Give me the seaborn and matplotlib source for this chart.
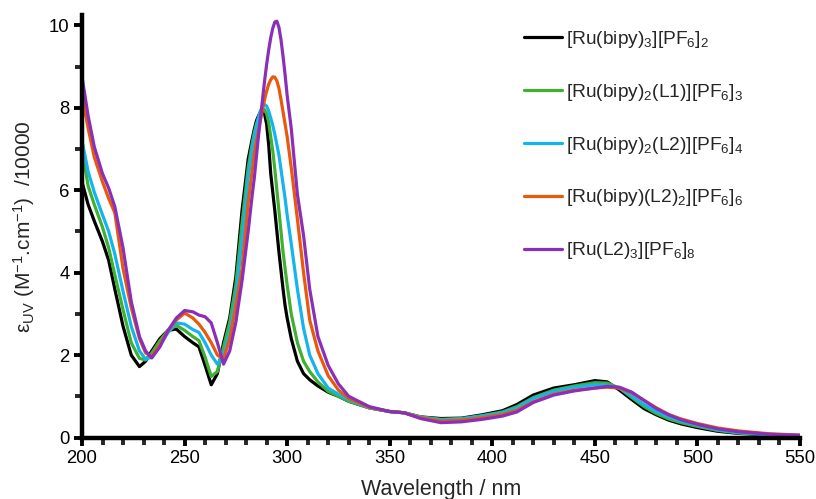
import numpy as np
import pandas as pd
import matplotlib
matplotlib.use("Agg")
import matplotlib.pyplot as plt
from matplotlib.ticker import MultipleLocator
import seaborn as sns

wavelength = [200, 203, 206, 210, 213, 216, 220, 224, 228, 231,
              234, 238, 242, 246, 250, 254, 257, 260, 263, 266,
              269, 272, 275, 278, 281, 283, 284, 285, 286, 287,
              288, 289, 290, 291, 292, 293, 294, 295, 296, 297,
              298, 299, 300, 302, 305, 308, 311, 315, 320, 325,
              330, 340, 350, 357, 365, 375, 385, 395, 405, 412,
              420, 430, 440, 450, 456, 462, 468, 474, 480, 486,
              492, 500, 510, 520, 535, 550]

ru_bipy3 = [6.2, 5.65, 5.25, 4.75, 4.3, 3.6, 2.7, 2.0, 1.72, 1.85,
            2.1, 2.4, 2.6, 2.63, 2.45, 2.3, 2.2, 1.75, 1.28, 1.55,
            2.3, 2.9, 3.9, 5.5, 6.75, 7.25, 7.48, 7.68, 7.8, 7.9,
            7.93, 7.85, 7.6, 7.1, 6.4, 5.95, 5.5, 5.0, 4.5, 4.05,
            3.6, 3.2, 2.9, 2.4, 1.85, 1.55, 1.4, 1.25, 1.1, 1.0,
            0.88, 0.72, 0.63, 0.6, 0.5, 0.46, 0.47, 0.55, 0.65, 0.8,
            1.03, 1.2, 1.28, 1.38, 1.35, 1.15, 0.92, 0.7, 0.55, 0.42,
            0.33, 0.24, 0.15, 0.1, 0.06, 0.04]

ru_bipy2_l1 = [7.0, 6.1, 5.65, 5.1, 4.6, 3.95, 3.1, 2.3, 1.92, 1.88,
               2.05, 2.35, 2.6, 2.72, 2.6, 2.45, 2.35, 1.95, 1.48, 1.6,
               2.2, 2.8, 3.7, 5.2, 6.55, 7.15, 7.4, 7.6, 7.75, 7.9,
               7.98, 7.95, 7.85, 7.65, 7.3, 6.95, 6.5, 6.0, 5.5, 5.0,
               4.5, 4.1, 3.7, 3.0, 2.3, 1.85, 1.6, 1.35, 1.12, 1.0,
               0.88, 0.72, 0.63, 0.6, 0.5, 0.44, 0.46, 0.53, 0.62, 0.75,
               0.97, 1.15, 1.25, 1.33, 1.32, 1.2, 0.97, 0.75, 0.58, 0.45,
               0.36, 0.27, 0.17, 0.11, 0.07, 0.05]

ru_bipy2_l2 = [7.2, 6.45, 5.95, 5.4, 5.0, 4.45, 3.55, 2.7, 2.1, 1.9,
               1.95, 2.25, 2.55, 2.78, 2.75, 2.62, 2.55, 2.3, 2.0, 1.78,
               2.0, 2.6, 3.4, 4.8, 6.3, 7.0, 7.3, 7.55, 7.75, 7.92,
               8.03, 8.08, 8.04, 7.92, 7.75, 7.57, 7.35, 7.1, 6.85, 6.5,
               6.15, 5.8, 5.4, 4.7, 3.6, 2.65, 2.0, 1.55, 1.2, 1.05,
               0.92, 0.72, 0.63, 0.6, 0.49, 0.43, 0.45, 0.52, 0.6, 0.72,
               0.95, 1.12, 1.22, 1.28, 1.27, 1.2, 1.0, 0.8, 0.63, 0.5,
               0.4, 0.3, 0.19, 0.12, 0.07, 0.05]

ru_bipy_l2_2 = [8.3, 7.5, 6.8, 6.2, 5.8, 5.45, 4.1, 3.15, 2.4, 2.05,
                1.97, 2.25, 2.6, 2.85, 3.02, 2.9, 2.75, 2.55, 2.3, 2.0,
                1.9, 2.4, 3.2, 4.1, 5.7, 6.5, 6.9, 7.2, 7.45, 7.7,
                7.95, 8.2, 8.4, 8.57, 8.68, 8.75, 8.74, 8.65, 8.47, 8.2,
                7.9, 7.6, 7.3, 6.55, 5.3, 4.0, 2.85, 2.1, 1.5, 1.15,
                0.95, 0.73, 0.63, 0.6, 0.48, 0.4, 0.42, 0.48, 0.56, 0.66,
                0.87, 1.05, 1.15, 1.2, 1.22, 1.2, 1.08, 0.9, 0.72, 0.56,
                0.45, 0.34, 0.23, 0.16, 0.09, 0.06]

ru_l2_3 = [8.75, 7.8, 7.05, 6.4, 6.05, 5.6, 4.6, 3.3, 2.45, 2.1,
           1.93, 2.2, 2.6, 2.9, 3.08, 3.05, 2.97, 2.93, 2.78, 2.3,
           1.78, 2.1, 2.8, 3.8, 5.0, 5.9, 6.3, 6.8, 7.3, 7.75,
           8.2, 8.65, 9.05, 9.4, 9.7, 9.93, 10.08, 10.1, 9.95, 9.65,
           9.25, 8.8, 8.3, 7.5, 5.9, 4.9, 3.6, 2.45, 1.75, 1.3,
           1.0, 0.75, 0.63, 0.6, 0.46, 0.36, 0.38, 0.44, 0.52, 0.62,
           0.85, 1.03, 1.13, 1.2, 1.24, 1.22, 1.1, 0.9, 0.7, 0.55,
           0.43, 0.32, 0.21, 0.14, 0.08, 0.05]

labels = [r'[Ru(bipy)$_3$][PF$_6$]$_2$',
          r'[Ru(bipy)$_2$(L1)][PF$_6$]$_3$',
          r'[Ru(bipy)$_2$(L2)][PF$_6$]$_4$',
          r'[Ru(bipy)(L2)$_2$][PF$_6$]$_6$',
          r'[Ru(L2)$_3$][PF$_6$]$_8$']
colors = ['#000000', '#40B033', '#14B4EE', '#E8590C', '#8A30B8']
series = [ru_bipy3, ru_bipy2_l1, ru_bipy2_l2, ru_bipy_l2_2, ru_l2_3]

frames = []
for lab, vals in zip(labels, series):
    frames.append(pd.DataFrame({'wl': wavelength, 'eps': vals, 'compound': lab}))
df = pd.concat(frames, ignore_index=True)

sns.set_style('white')
plt.rcParams['font.family'] = ['Liberation Sans', 'DejaVu Sans']
plt.rcParams['mathtext.fontset'] = 'custom'
plt.rcParams['mathtext.rm'] = 'Liberation Sans'
plt.rcParams['mathtext.it'] = 'Liberation Sans:italic'
plt.rcParams['mathtext.default'] = 'regular'

fig = plt.figure(figsize=(8.16, 4.99), dpi=100)
ax = fig.add_axes([82/816, 1 - 437.5/499, 718/816, (437.5-15)/499])

sns.lineplot(data=df, x='wl', y='eps', hue='compound', hue_order=labels,
             palette=colors, linewidth=2.3, estimator=None, ax=ax, legend=True,
             solid_joinstyle='round', solid_capstyle='round')

ax.set_xlim(200, 550)
ax.set_ylim(0, 10.25)
ax.xaxis.set_major_locator(MultipleLocator(50))
ax.xaxis.set_minor_locator(MultipleLocator(10))
ax.yaxis.set_major_locator(MultipleLocator(2))
ax.yaxis.set_minor_locator(MultipleLocator(1))
for s in ['top', 'right']:
    ax.spines[s].set_visible(False)
for s in ['left', 'bottom']:
    ax.spines[s].set_linewidth(3.2)
    ax.spines[s].set_color('black')
ax.tick_params(which='major', direction='out', length=6, width=2.8, labelsize=13.3,
               colors='black', pad=3, bottom=True, left=True)
ax.tick_params(which='minor', direction='out', length=5, width=2.8,
               bottom=True, left=True)
ax.grid(False)

ax.set_xlabel('Wavelength / nm', fontsize=15.5, labelpad=9)
ax.set_ylabel(r'ε$_{UV}$ (M$^{-1}$.cm$^{-1}$)  /10000', fontsize=15)
ax.yaxis.set_label_coords(-0.062, 0.5)

handles, labs = ax.get_legend_handles_labels()
leg = ax.legend(handles, labs, loc='upper left', bbox_to_anchor=(524/816, 1 - 29/499),
                bbox_transform=fig.transFigure, frameon=False, fontsize=13.8,
                handlelength=2.0, handletextpad=0.2, labelspacing=1.66,
                borderpad=0, borderaxespad=0)
for line in leg.get_lines():
    line.set_linewidth(2.3)

fig.savefig('out.png', dpi=100)
